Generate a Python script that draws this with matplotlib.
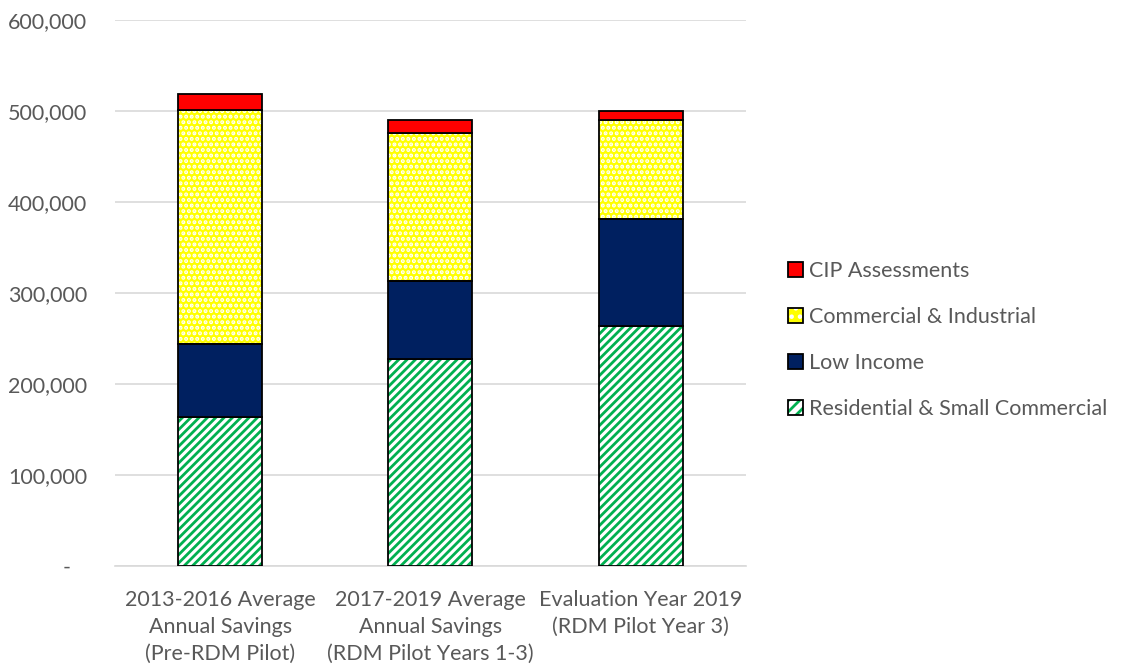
import matplotlib
matplotlib.use("Agg")
import matplotlib.pyplot as plt
import numpy as np
from matplotlib.patches import Patch
from matplotlib.legend_handler import HandlerTuple

categories = ["2013-2016 Average\nAnnual Savings\n(Pre-RDM Pilot)",
              "2017-2019 Average\nAnnual Savings\n(RDM Pilot Years 1-3)",
              "Evaluation Year 2019\n(RDM Pilot Year 3)"]
residential = [164000, 227500, 264000]
low_income = [80000, 86000, 117000]
commercial = [257000, 162500, 109000]
cip = [18000, 14000, 10000]

plt.rcParams['font.family'] = ['Lato', 'DejaVu Sans']
plt.rcParams['hatch.linewidth'] = 2.0
txt = '#595959'
fs = 15.5

fig = plt.figure(figsize=(11.23, 6.68), dpi=100)
ax = fig.add_axes([0.1024, 0.1527, 0.5616, 0.8173])

x = np.arange(len(categories))
w = 0.40
res = np.array(residential); li = np.array(low_income); ci = np.array(commercial); cp = np.array(cip)

ax.bar(x, res, w, color='white', edgecolor='#00B050', hatch='////', linewidth=0, zorder=3)
ax.bar(x, res, w, fill=False, edgecolor='black', linewidth=1.3, zorder=4)
ax.bar(x, li, w, bottom=res, color='#002060', edgecolor='black', linewidth=1.3, zorder=4)
ax.bar(x, ci, w, bottom=res + li, color='#FFFF00', edgecolor='white', hatch='...', linewidth=0, zorder=3)
ax.bar(x, ci, w, bottom=res + li, fill=False, edgecolor='black', linewidth=1.3, zorder=4)
ax.bar(x, cp, w, bottom=res + li + ci, color='#FF0000', edgecolor='black', linewidth=1.3, zorder=4)

ax.set_xlim(-0.5, 2.5)
ax.set_ylim(0, 600000)
ax.set_yticks(np.arange(0, 600001, 100000))
ax.set_yticklabels(['-   '] + [f"{v:,}" for v in range(100000, 600001, 100000)])
ax.set_xticks(x)
ax.set_xticklabels(categories, linespacing=1.45)
ax.yaxis.grid(True, color='#d9d9d9', linewidth=1.2, zorder=0)
ax.set_axisbelow(True)
for s in ['top', 'right', 'left']:
    ax.spines[s].set_visible(False)
ax.spines['bottom'].set_color('#d9d9d9')
ax.spines['bottom'].set_linewidth(1.2)
ax.tick_params(axis='both', length=0, labelsize=fs, colors=txt)
ax.tick_params(axis='x', pad=17)
ax.tick_params(axis='y', pad=20)

h_cip = Patch(facecolor='#FF0000', edgecolor='black', linewidth=1.3)
h_ci = (Patch(facecolor='#FFFF00', edgecolor='white', hatch='..', linewidth=0),
        Patch(fill=False, edgecolor='black', linewidth=1.3))
h_li = Patch(facecolor='#002060', edgecolor='black', linewidth=1.3)
h_res = (Patch(facecolor='white', edgecolor='#00B050', hatch='///', linewidth=0),
         Patch(fill=False, edgecolor='black', linewidth=1.3))
leg = fig.legend([h_cip, h_ci, h_li, h_res],
                 ['CIP Assessments', 'Commercial & Industrial', 'Low Income',
                  'Residential & Small Commercial'],
                 handler_map={tuple: HandlerTuple(ndivide=1, pad=0)},
                 loc='center left', bbox_to_anchor=(0.684, 0.491),
                 frameon=False, fontsize=fs, labelspacing=1.2, handlelength=0.7,
                 handleheight=0.7, handletextpad=0.3)
for t in leg.get_texts():
    t.set_color(txt)

fig.savefig('out.png', dpi=100)
